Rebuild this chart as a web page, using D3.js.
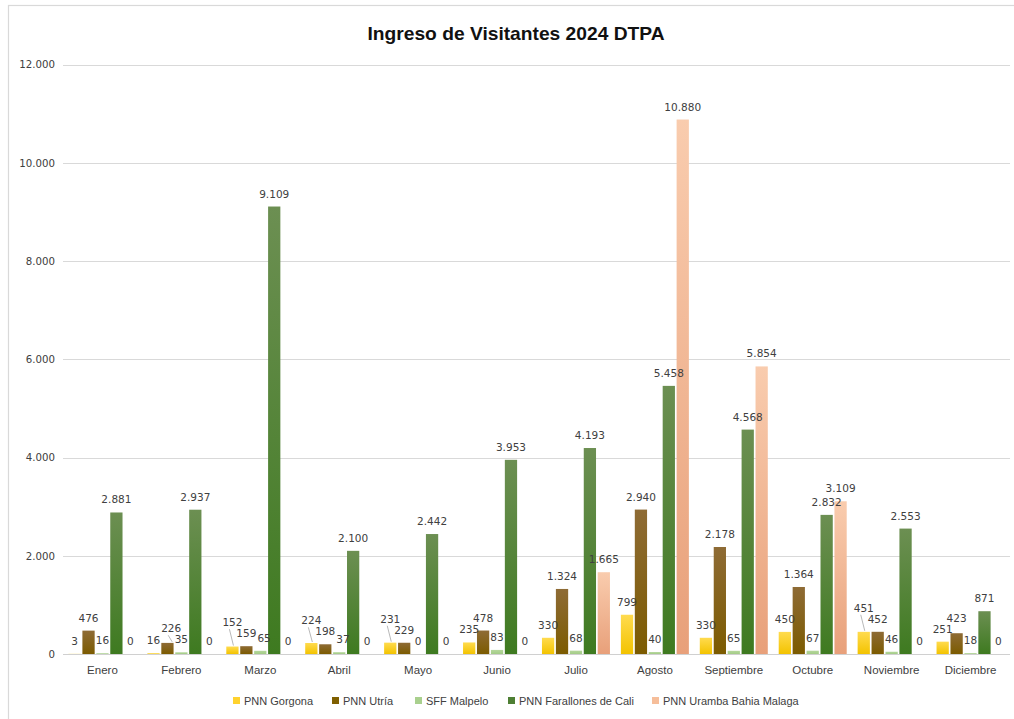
<!DOCTYPE html>
<html>
<head>
<meta charset="utf-8">
<script src="https://cdn.jsdelivr.net/npm/d3@7/dist/d3.min.js"></script>
<style>
  html, body { margin: 0; padding: 0; background: #ffffff; }
  svg { display: block; }
</style>
</head>
<body>
<svg id="chart" width="1014" height="719"></svg>
<script>
// ---- Data ----
const months = ["Enero","Febrero","Marzo","Abril","Mayo","Junio","Julio","Agosto","Septiembre","Octubre","Noviembre","Diciembre"];
const seriesNames = ["PNN Gorgona","PNN Utría","SFF Malpelo","PNN Farallones de Cali","PNN Uramba Bahia Malaga"];
const gorgona    = [3, 16, 152, 224, 231, 235, 330, 799, 330, 450, 451, 251];
const utria      = [476, 226, 159, 198, 229, 478, 1324, 2940, 2178, 1364, 452, 423];
const malpelo    = [16, 35, 65, 37, 0, 83, 68, 40, 65, 67, 46, 18];
const farallones = [2881, 2937, 9109, 2100, 2442, 3953, 4193, 5458, 4568, 2832, 2553, 871];
const uramba     = [0, 0, 0, 0, 0, 0, 1665, 10880, 5854, 3109, 0, 0];
const yTicks = [0, 2000, 4000, 6000, 8000, 10000, 12000];

const seriesValues = [gorgona, utria, malpelo, farallones, uramba];
const colorsTop    = ["#FFDB4F", "#8E6B35", "#B5D79C", "#6C8F52", "#F9CCAE"];
const colorsBottom = ["#F3C300", "#7C5B00", "#A3CC86", "#3E7A20", "#E8A07A"];
const legendColors = ["#FFD22E", "#7F5F00", "#A9D08E", "#4E7F34", "#F6BE9A"];

const svg = d3.select("#chart");

const loc = d3.formatLocale({decimal: ",", thousands: ".", grouping: [3], currency: ["", ""]});
const fmt = loc.format(",d");

// Chart frame
svg.append("rect").attr("x", 8.5).attr("y", 5.5).attr("width", 1020).attr("height", 730)
  .attr("fill", "#fff").attr("stroke", "#D9D9D9").attr("stroke-width", 1.2);

// Scales
const x = d3.scaleBand().domain(months).range([63, 1010]).paddingInner(0).paddingOuter(0);
const groupW = 68;
const xs = d3.scaleBand().domain(seriesNames)
  .range([(x.bandwidth() - groupW) / 2, (x.bandwidth() + groupW) / 2])
  .paddingInner(0.12).paddingOuter(0);
const y = d3.scaleLinear().domain([0, 12000]).range([654, 64.5]);

// Gradients
const defs = svg.append("defs");
seriesNames.forEach((s, i) => {
  const g = defs.append("linearGradient").attr("id", "grad" + i)
    .attr("x1", 0).attr("y1", 0).attr("x2", 0).attr("y2", 1);
  g.append("stop").attr("offset", "0%").attr("stop-color", colorsTop[i]);
  g.append("stop").attr("offset", "100%").attr("stop-color", colorsBottom[i]);
});

// Gridlines
svg.append("g").selectAll("line").data(yTicks.filter(d => d > 0)).join("line")
  .attr("x1", 63).attr("x2", 1010)
  .attr("y1", d => Math.round(y(d)) + 0.5).attr("y2", d => Math.round(y(d)) + 0.5)
  .attr("stroke", "#D9D9D9").attr("stroke-width", 1.2);

// Y axis labels
const yAxis = d3.axisLeft(y).tickValues(yTicks).tickFormat(fmt).tickSize(0).tickPadding(8);
const yg = svg.append("g").attr("transform", "translate(63,0)").call(yAxis);
yg.select(".domain").remove();
yg.selectAll("text").attr("font-family", "DejaVu Sans, Verdana, sans-serif")
  .attr("font-size", "10.2px").attr("fill", "#404040");

// Bars
const groups = svg.append("g").selectAll("g").data(months).join("g")
  .attr("transform", d => `translate(${x(d)},0)`);

seriesNames.forEach((s, si) => {
  groups.append("rect")
    .attr("x", xs(s))
    .attr("width", xs.bandwidth())
    .attr("y", (d, mi) => y(seriesValues[si][mi]))
    .attr("height", (d, mi) => y(0) - y(seriesValues[si][mi]))
    .attr("fill", `url(#grad${si})`);
});

// Zero axis line
svg.append("line").attr("x1", 63).attr("x2", 1010).attr("y1", 654.5).attr("y2", 654.5)
  .attr("stroke", "#D0D0D0").attr("stroke-width", 1.2);

// Data labels with simple collision handling
const labelLayer = svg.append("g");
months.forEach((m, mi) => {
  const g = labelLayer.append("g").attr("transform", `translate(${x(m)},0)`);
  const labs = seriesNames.map((s, si) => {
    const v = seriesValues[si][mi];
    const cx = xs(s) + xs.bandwidth() / 2;
    const node = g.append("text")
      .attr("x", cx).attr("y", y(v) - 9)
      .attr("text-anchor", "middle")
      .attr("font-family", "DejaVu Sans, Verdana, sans-serif")
      .attr("font-size", "10.5px")
      .attr("fill", "#404040")
      .text(fmt(v));
    return {node, x: cx, y: y(v) - 9, top: y(v), w: node.node().getComputedTextLength(), moved: false};
  });
  for (let i = 0; i < labs.length - 1; i++) {
    const a = labs[i], b = labs[i + 1];
    const hOver = (a.x + a.w / 2) - (b.x - b.w / 2);
    if (hOver > 0 && Math.abs(a.y - b.y) < 11) {
      if (hOver <= 5) {
        b.x += hOver + 1;
        b.node.attr("x", b.x);
      } else if (b.y < a.y - 2) {
        b.y = a.y - 11;
        b.node.attr("y", b.y);
      } else {
        a.y = b.y - 11;
        a.node.attr("y", a.y);
        a.moved = true;
      }
    }
  }
  labs.forEach(l => {
    if (l.moved) {
      g.append("line")
        .attr("x1", l.x - 3).attr("y1", l.y + 3)
        .attr("x2", l.x + 1).attr("y2", l.top - 1)
        .attr("stroke", "#A6A6A6").attr("stroke-width", 0.8);
    }
  });
});

// X axis labels
const xAxis = d3.axisBottom(x).tickSize(0).tickPadding(12);
const xg = svg.append("g").attr("transform", "translate(0,654)").call(xAxis);
xg.select(".domain").remove();
xg.selectAll("text").attr("font-family", "Liberation Sans, Arial, sans-serif")
  .attr("font-size", "11.5px").attr("fill", "#404040");

// Title
svg.append("text").attr("x", 516).attr("y", 40).attr("text-anchor", "middle")
  .attr("font-family", "Liberation Sans, Arial, sans-serif").attr("font-weight", "bold")
  .attr("font-size", "19px").attr("fill", "#111")
  .attr("textLength", 297).attr("lengthAdjust", "spacingAndGlyphs")
  .text("Ingreso de Visitantes 2024 DTPA");

// Legend
const legendX = [233, 332, 415, 508, 652];
const lg = svg.append("g");
seriesNames.forEach((s, i) => {
  lg.append("rect").attr("x", legendX[i]).attr("y", 697).attr("width", 7).attr("height", 7)
    .attr("fill", legendColors[i]);
  lg.append("text").attr("x", legendX[i] + 11).attr("y", 705)
    .attr("font-family", "Liberation Sans, Arial, sans-serif").attr("font-size", "11px")
    .attr("fill", "#404040").text(s);
});
</script>
</body>
</html>
